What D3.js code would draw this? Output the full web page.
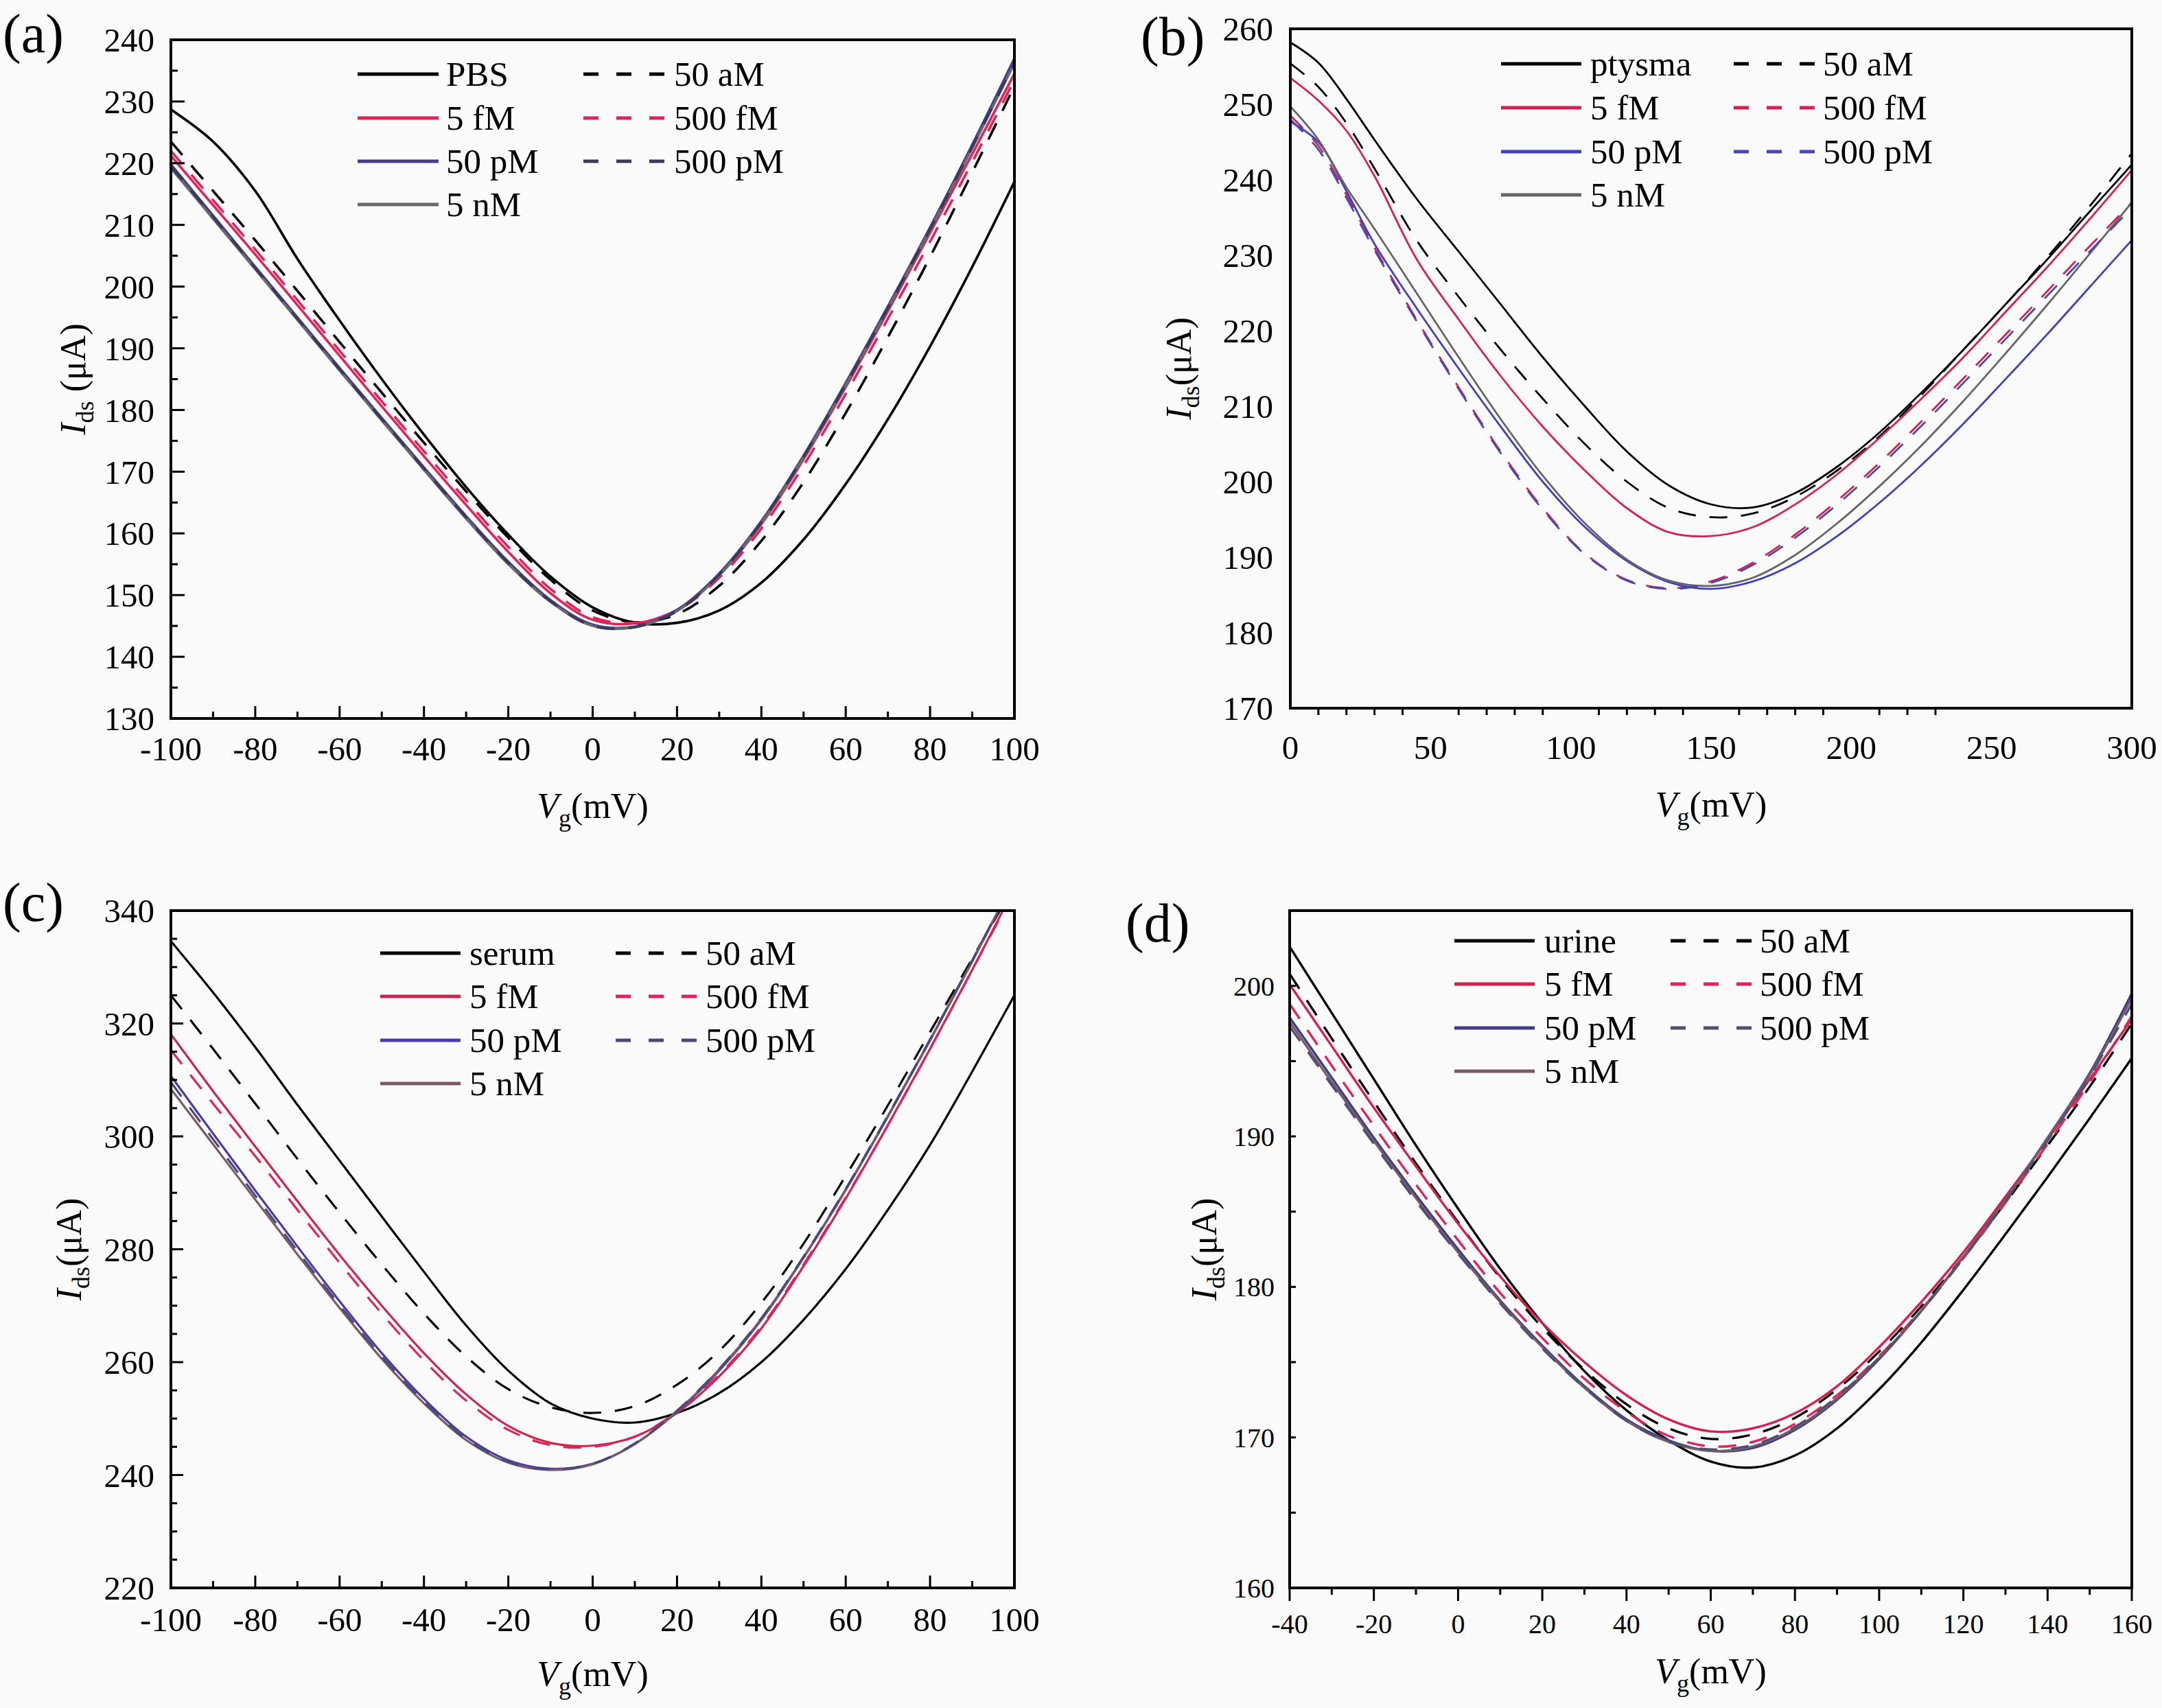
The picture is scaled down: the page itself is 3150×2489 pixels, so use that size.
<!DOCTYPE html>
<html><head><meta charset="utf-8">
<script src="https://cdn.jsdelivr.net/npm/d3@7"></script>
<style>
body{margin:0;background:#fafafa;}
svg{display:block;font-family:"Liberation Serif","Times New Roman",serif;}
</style></head><body>
<svg id="chart" width="3150" height="2489"></svg>
<script>
// ---------------- DATA ----------------
// Panel (a) PBS
const xA = [-100,-90,-80,-70,-60,-50,-40,-30,-20,-10,0,10,20,30,40,50,60,70,80,90,100];
const aBase  = [228.7,223.5,215.5,204.5,194.5,185,176,167.5,159.8,153,148,145.5,145.5,147.5,152,159,168,178.5,190.3,203.2,217];
const a50aM  = [223.5,215.5,207.5,199.3,191,182.8,174.7,166.8,159.3,152.5,147.5,145.6,146.9,151.5,158.8,168.3,179.5,191.8,204.8,218.5,232.5];
const a5fM   = [221.2,213.2,205.2,197,188.8,180.6,172.5,164.6,157,150.3,146,145.4,147.6,153.2,161.5,172,183.7,196,208.7,221.5,234.5];
const a500fM = [222,214,206,197.8,189.6,181.4,173.3,165.4,157.8,151,146.4,145.5,147.5,152.8,160.8,171,182.6,194.8,207.3,220.2,233.5];
const a50pM  = [219.8,211.5,203.2,195,186.8,178.7,170.7,162.8,155.4,149.2,145.2,144.9,147.6,153.5,162,172.6,184.4,196.8,209.6,223,237];
const a500pM = [219.5,211.3,203,194.8,186.6,178.5,170.5,162.6,155.2,149,145,144.8,147.4,153.3,161.8,172.4,184.1,196.5,209.3,222.6,236.3];
const a5nM   = [219.2,211,202.8,194.6,186.4,178.3,170.3,162.4,155,148.9,145,144.8,147.4,153.2,161.7,172.3,184,196.4,209.2,222.5,236.2];
const aXTicks = [-100,-80,-60,-40,-20,0,20,40,60,80,100];
const aXMinor = [-90,-70,-50,-30,-10,10,30,50,70,90];
const aYTicks = [130,140,150,160,170,180,190,200,210,220,230,240];
const aYMinor = [135,145,155,165,175,185,195,205,215,225,235];

// Panel (b) ptysma
const xB = [0,10,20,30,45,60,75,90,105,120,135,150,165,180,195,210,225,240,255,270,285,300];
const bBase  = [258.2,255.5,250.7,245.3,237.5,230.5,223.5,216.5,210,204,199.5,197,196.6,198.5,202,206.5,211.8,217.5,223.5,229.5,235.8,242];
const b50aM  = [255.4,252.3,247.5,241.5,232,224.5,217.5,211,205,200,196.5,195.3,195.8,198,201.5,206,211.5,217.5,223.5,229.8,236.5,243.5];
const b5fM   = [253.5,250.5,246.5,240.5,229.5,221.5,214,207.3,201.5,196.5,193.3,192.8,194,197,201,205.8,211,216.5,222.5,228.5,234.8,241.3];
const b500fM = [248.5,244.5,238,231,221.5,212.5,204,196.5,190.5,187,185.9,186.8,189.3,193,197.5,202.5,208,213.7,219.5,225.3,231.2,237];
const b50pM  = [247.7,245,238.5,231.5,223,215,207.3,200,194,189.5,186.7,185.8,186.8,189.2,192.8,197.2,202.2,207.7,213.6,219.6,225.8,232];
const b500pM = [248,244,237.6,230.7,221.3,212.3,203.8,196.3,190.4,186.9,185.8,186.6,189,192.6,197,202,207.4,213.1,218.9,224.7,230.5,236.3];
const b5nM   = [249.7,245.3,239,233.5,225,216.5,208.3,200.8,194.5,189.7,186.9,186.2,187.3,190.3,194.5,199.4,204.8,210.7,217,223.5,230.2,237];
const bXTicks = [0,50,100,150,200,250,300];
const bXMinor = [10,20,30,40,60,70,80,90,110,120,130,140,160,170,180,190,210,220,230];
const bYTicks = [170,180,190,200,210,220,230,240,250,260];
const bYMinor = [];

// Panel (c) serum
const xC = [-100,-90,-80,-70,-60,-50,-40,-30,-20,-10,0,10,20,30,40,50,60,70,80,90,100];
const cBase  = [334.6,325.5,315.8,305.6,295.7,285.8,276,266.5,258.5,252.7,250,249.3,251,254.5,260,267.5,276.5,287,298.5,311.5,325];
const c50aM  = [325,315.5,305.8,296,286.5,277.3,268.6,261,255.2,252,251,252.2,256,262,270.5,281,293,305.5,318.5,331.5,344.5];
const c5fM   = [318.1,308,298.2,288.5,279,270,261.6,254.3,248.7,245.7,245.2,246.8,251,257.5,266,277,289,302,315.5,329.5,344];
const c500fM = [315.3,305.8,296.5,287,277.6,268.6,260.3,253.2,248,245.3,245,246.8,251.2,257.8,266.3,277.3,289.2,302,315.5,329.5,343.5];
const c50pM  = [310.7,300.5,290.4,280.5,270.8,261.6,253.5,246.8,242.6,241.1,242,245.5,251.2,258.5,267.5,278.5,290.5,303.5,317,331,345.5];
const c500pM = [309.6,299.5,289.5,279.7,270.1,261,253,246.4,242.3,241,242,245.6,251.4,258.8,267.8,278.7,290.7,303.7,317.2,331.2,345.7];
const c5nM   = [308.4,298.6,288.8,279.1,269.6,260.6,252.7,246.2,242.2,240.9,241.9,245.5,251.3,258.7,267.7,278.6,290.6,303.6,317.1,331.1,345.6];
const cXTicks = [-100,-80,-60,-40,-20,0,20,40,60,80,100];
const cXMinor = [-90,-70,-50,-30,-10,10,30,50,70,90];
const cYTicks = [220,240,260,280,300,320,340];
const cYMinor = [225,230,235,245,250,255,265,270,275,285,290,295,305,310,315,325,330,335];

// Panel (d) urine
const xD = [-40,-30,-20,-10,0,10,20,30,40,50,60,70,80,90,100,110,120,130,140,150,160];
const dBase  = [202.6,198.2,193.8,189.4,185.2,181.2,177.6,174.4,171.8,169.8,168.4,168,168.8,170.6,173.2,176.3,179.8,183.5,187.3,191.2,195.2];
const d50aM  = [200.8,196.5,192.3,188.2,184.3,180.6,177.3,174.5,172.2,170.6,169.9,170.2,171.3,173.2,175.7,178.7,182,185.6,189.4,193.3,197.5];
const d5fM   = [200.1,196,191.9,188,184.2,180.7,177.6,175,172.8,171.2,170.4,170.6,171.6,173.4,176,179,182.3,186,189.8,193.8,197.8];
const d500fM = [198.8,194.7,190.7,186.8,183.1,179.6,176.6,173.9,171.7,170.1,169.4,169.7,170.9,172.8,175.4,178.5,181.9,185.6,189.5,193.6,198];
const d50pM  = [197.9,193.9,189.9,186.1,182.5,179.1,176.1,173.4,171.2,169.8,169.1,169.3,170.5,172.5,175.2,178.4,182,185.8,189.9,194.2,199.5];
const d500pM = [197.3,193.4,189.5,185.7,182.2,178.9,175.9,173.3,171.1,169.7,169.2,169.5,170.7,172.7,175.3,178.4,181.9,185.7,189.7,194,198.8];
const d5nM   = [197.6,193.6,189.7,185.9,182.3,179,176,173.3,171.1,169.7,169.1,169.4,170.6,172.6,175.3,178.4,182,185.8,189.9,194.1,199.2];
const dXTicks = [-40,-20,0,20,40,60,80,100,120,140,160];
const dXMinor = [-30,-10,10,30,50,70,90,110,130,150];
const dYTicks = [160,170,180,190,200];
const dYMinor = [165,175,185,195];

const seriesLabels = ["50 aM","5 fM","500 fM","50 pM","500 pM","5 nM"];

// ---------------- DRAW ----------------
const svg = d3.select('#chart');
svg.append('rect').attr('width',3150).attr('height',2489).attr('fill','#fafafa');

function mk(base, baseName, arr, colors){
  return [
    {name: baseName, values: base, color: '#000000', dash:false, legend:[0,0]},
    {name: seriesLabels[0], values: arr[0], color: '#000000', dash:true, legend:[1,0]},
    {name: seriesLabels[1], values: arr[1], color: colors.fM, dash:false, legend:[0,1]},
    {name: seriesLabels[2], values: arr[2], color: colors.fMd, dash:true, legend:[1,1]},
    {name: seriesLabels[3], values: arr[3], color: colors.pM, dash:false, legend:[0,2]},
    {name: seriesLabels[5], values: arr[5], color: colors.nM, dash:false, legend:[0,3]},
    {name: seriesLabels[4], values: arr[4], color: colors.pMd, dash:true, legend:[1,2]}
  ];
}

const panels = [
  {id:'a', label:'(a)', labelPos:[4,76], xs:xA, xDomain:[-100,100], yDomain:[130,240],
   box:{l:249,r:1478,t:58,b:1047}, lw:3.6,
   xT:aXTicks, xM:aXMinor, yT:aYTicks, yM:aYMinor, xDir:'in', yDir:'in', xLen:[18,10], yLen:[20,10], yTickOn:true,
   tickFont:49, xLabY:1108, yLabGap:24, xTitleY:1192, yTitleX:124, ySpace:true,
   series: mk(aBase,'PBS',[a50aM,a5fM,a500fM,a50pM,a500pM,a5nM],{fM:'#e0245a',fMd:'#e0245a',pM:'#463c8e',pMd:'#3a3a5a',nM:'#6a6a6a'}),
   legend:{c1:[521,639,650], c2:[850,972,982], rows:[108,172,235,298]}},
  {id:'b', label:'(b)', labelPos:[1662,80], xs:xB, xDomain:[0,300], yDomain:[170,260],
   box:{l:1880,r:3106,t:42,b:1032}, lw:2.8,
   xT:bXTicks, xM:bXMinor, yT:bYTicks, yM:bYMinor, xDir:'out', yDir:'in', xLen:[10,10], yLen:[0,0], yTickOn:false, xMajorTicks:false,
   tickFont:49, xLabY:1106, yLabGap:25, xTitleY:1190, yTitleX:1735, ySpace:false,
   series: mk(bBase,'ptysma',[b50aM,b5fM,b500fM,b50pM,b500pM,b5nM],{fM:'#d8204e',fMd:'#d8204e',pM:'#4040c0',pMd:'#4848b8',nM:'#666666'}),
   legend:{c1:[2187,2304,2317], c2:[2526,2645,2656], rows:[93,157,221,284]}},
  {id:'c', label:'(c)', labelPos:[4,1342], xs:xC, xDomain:[-100,100], yDomain:[220,340],
   box:{l:249,r:1478,t:1327,b:2314}, lw:3.2,
   xT:cXTicks, xM:cXMinor, yT:cYTicks, yM:cYMinor, xDir:'in', yDir:'in', xLen:[18,10], yLen:[18,9], yTickOn:true,
   tickFont:49, xLabY:2377, yLabGap:24, xTitleY:2457, yTitleX:118, ySpace:false,
   series: mk(cBase,'serum',[c50aM,c5fM,c500fM,c50pM,c500pM,c5nM],{fM:'#c8284e',fMd:'#e0245a',pM:'#4a3ca8',pMd:'#4a4a78',nM:'#7a5a68'}),
   legend:{c1:[554,671,684], c2:[897,1016,1028], rows:[1389,1452,1516,1579]}},
  {id:'d', label:'(d)', labelPos:[1640,1372], xs:xD, xDomain:[-40,160], yDomain:[160,205],
   box:{l:1879,r:3106,t:1327,b:2314}, lw:3.4,
   xT:dXTicks, xM:dXMinor, yT:dYTicks, yM:dYMinor, xDir:'out', yDir:'in', xLen:[19,10], yLen:[9,9], yTickOn:true,
   tickFont:40, xLabY:2380, yLabGap:22, xTitleY:2453, yTitleX:1772, ySpace:false,
   series: mk(dBase,'urine',[d50aM,d5fM,d500fM,d50pM,d500pM,d5nM],{fM:'#d8204e',fMd:'#e0245a',pM:'#3c3c8c',pMd:'#505070',nM:'#7a5a68'}),
   legend:{c1:[2119,2236,2250], c2:[2434,2553,2564], rows:[1371,1434,1498,1561]}}
];

const DASH = '26,20';

panels.forEach(p => {
  const x = d3.scaleLinear().domain(p.xDomain).range([p.box.l, p.box.r]);
  const y = d3.scaleLinear().domain(p.yDomain).range([p.box.b, p.box.t]);
  const g = svg.append('g').attr('class','panel-'+p.id);
  const clipId = 'clip-'+p.id;
  svg.append('clipPath').attr('id', clipId).append('rect')
    .attr('x', p.box.l).attr('y', p.box.t)
    .attr('width', p.box.r - p.box.l).attr('height', p.box.b - p.box.t);

  const line = d3.line().x(d => x(d[0])).y(d => y(d[1])).curve(d3.curveCatmullRom.alpha(0.5));
  const lg = g.append('g').attr('clip-path', `url(#${clipId})`);
  p.series.forEach(s => {
    lg.append('path')
      .attr('d', line(p.xs.map((v,i) => [v, s.values[i]])))
      .attr('fill','none').attr('stroke', s.color).attr('stroke-width', p.lw)
      .attr('stroke-linejoin','round')
      .attr('stroke-dasharray', s.dash ? DASH : null);
  });

  const xs = p.xDir === 'in' ? -1 : 1;
  if (p.xMajorTicks !== false) {
    p.xT.forEach(v => g.append('line').attr('x1', x(v)).attr('x2', x(v))
      .attr('y1', p.box.b).attr('y2', p.box.b + xs*p.xLen[0]).attr('stroke','#000').attr('stroke-width',3));
  }
  p.xM.forEach(v => g.append('line').attr('x1', x(v)).attr('x2', x(v))
    .attr('y1', p.box.b).attr('y2', p.box.b + xs*p.xLen[1]).attr('stroke','#000').attr('stroke-width',3));
  if (p.yTickOn) {
    p.yT.forEach(v => g.append('line').attr('y1', y(v)).attr('y2', y(v))
      .attr('x1', p.box.l).attr('x2', p.box.l + p.yLen[0]).attr('stroke','#000').attr('stroke-width',3));
    p.yM.forEach(v => g.append('line').attr('y1', y(v)).attr('y2', y(v))
      .attr('x1', p.box.l).attr('x2', p.box.l + p.yLen[1]).attr('stroke','#000').attr('stroke-width',3));
  }

  g.append('rect').attr('x', p.box.l).attr('y', p.box.t)
    .attr('width', p.box.r - p.box.l).attr('height', p.box.b - p.box.t)
    .attr('fill','none').attr('stroke','#000').attr('stroke-width',4);

  p.xT.forEach(v => g.append('text').attr('x', x(v)).attr('y', p.xLabY)
    .attr('text-anchor','middle').attr('font-size', p.tickFont).text(v));
  p.yT.forEach(v => g.append('text').attr('x', p.box.l - p.yLabGap).attr('y', y(v)).attr('dy','0.35em')
    .attr('text-anchor','end').attr('font-size', p.tickFont).text(v));

  const xt = g.append('text').attr('x', (p.box.l+p.box.r)/2).attr('y', p.xTitleY)
    .attr('text-anchor','middle').attr('font-size', 52);
  xt.append('tspan').attr('font-style','italic').text('V');
  xt.append('tspan').attr('font-size', 36).attr('dy', 12).text('g');
  xt.append('tspan').attr('dy', -12).text('(mV)');

  const cy = (p.box.t + p.box.b)/2;
  const yt = g.append('text').attr('transform', `translate(${p.yTitleX},${cy}) rotate(-90)`)
    .attr('text-anchor','middle').attr('font-size', 52);
  yt.append('tspan').attr('font-style','italic').text('I');
  yt.append('tspan').attr('font-size', 36).attr('dy', 12).text('ds');
  yt.append('tspan').attr('dy', -12).text((p.ySpace ? ' ' : '') + '(\u03bcA)');

  g.append('text').attr('x', p.labelPos[0]).attr('y', p.labelPos[1]).attr('font-size', 80).text(p.label);

  p.series.forEach(s => {
    const col = s.legend[0] === 0 ? p.legend.c1 : p.legend.c2;
    const ry = p.legend.rows[s.legend[1]];
    g.append('line').attr('x1', col[0]).attr('x2', col[1]).attr('y1', ry).attr('y2', ry)
      .attr('stroke', s.color).attr('stroke-width', 5)
      .attr('stroke-dasharray', s.dash ? '22,26' : null);
    g.append('text').attr('x', col[2]).attr('y', ry + 17).attr('font-size', 51).text(s.name);
  });
});
</script>
</body></html>
